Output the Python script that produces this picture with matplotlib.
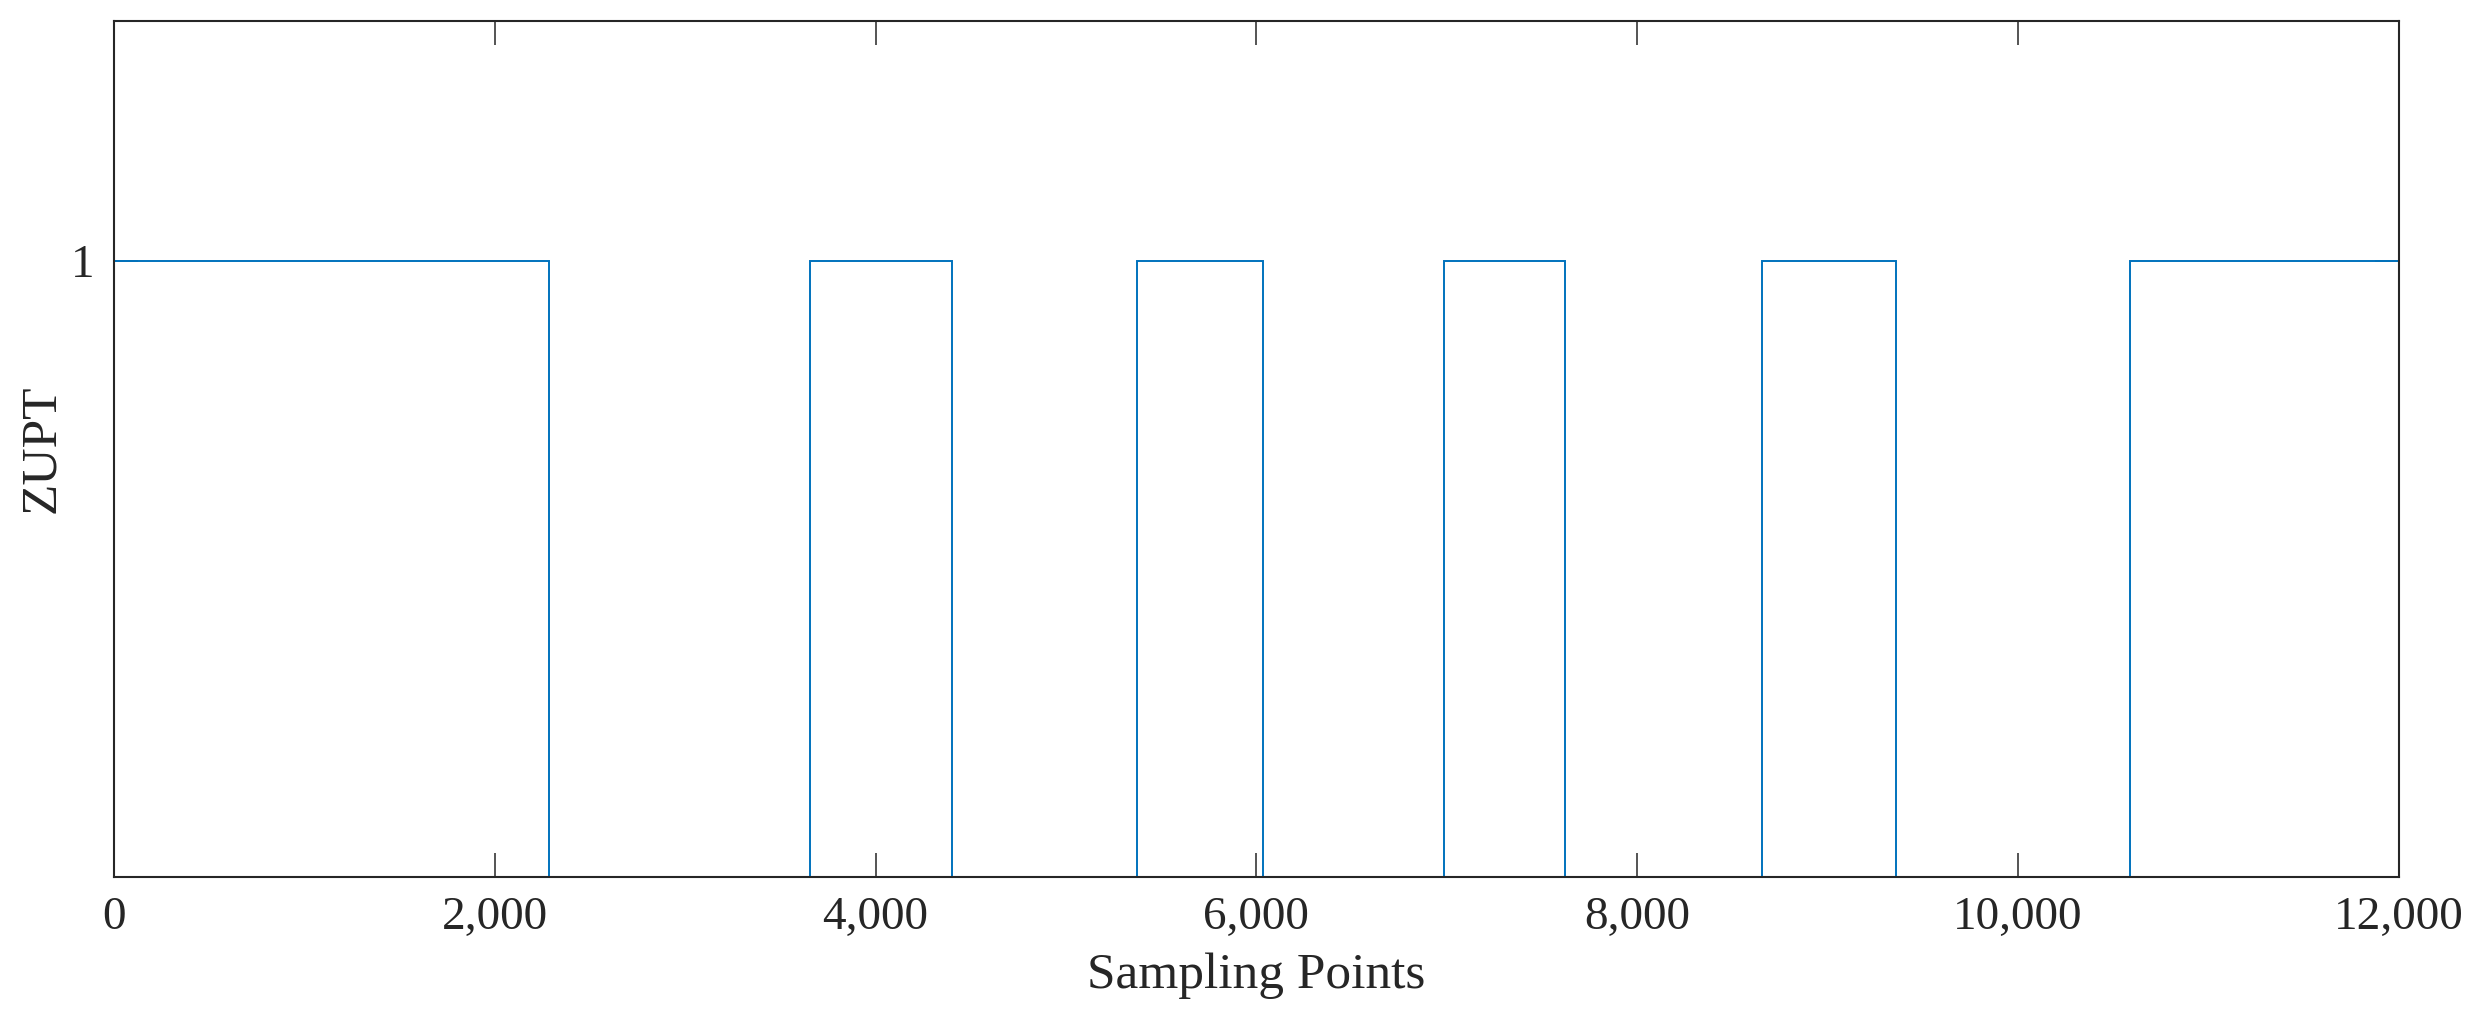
import numpy as np
import matplotlib
matplotlib.use('Agg')
from matplotlib import pyplot as plt
from matplotlib.ticker import FuncFormatter

# ZUPT detection flag: step edges (sampling points) and level between them
edges = [0, 2285, 3656, 4402, 5376, 6033, 6986, 7622, 8659, 9358, 10587, 12000]
levels = [1, 0, 1, 0, 1, 0, 1, 0, 1, 0, 1]
x_ticks = [0, 2000, 4000, 6000, 8000, 10000, 12000]
y_ticks = [1]

plt.rcParams['font.family'] = ['Liberation Serif', 'DejaVu Serif']

fig = plt.figure(figsize=(24.84, 10.30), dpi=100)
ax = fig.add_axes([0.0459, 0.1488, 0.9197, 0.8311])

ax.stairs(levels, edges, baseline=None, color='#0072BD', linewidth=1.4, zorder=2)

ax.set_xlim(0, 12000)
ax.set_ylim(0, 1.39)
ax.set_xticks(x_ticks)
ax.set_yticks(y_ticks)
ax.xaxis.set_major_formatter(FuncFormatter(lambda v, p: '{:,.0f}'.format(v)))

ax.tick_params(direction='in', length=17, width=1.1, colors='#262626',
               labelsize=34, top=True, right=True, pad=14)
for s in ax.spines.values():
    s.set_linewidth(1.5)
    s.set_color('#262626')
    s.set_zorder(5)

ax.set_xlabel('Sampling Points', fontsize=37, color='#262626', labelpad=10)
ax.set_ylabel('ZUPT', fontsize=37, color='#262626', labelpad=4)

fig.savefig('out.png', dpi=100)
